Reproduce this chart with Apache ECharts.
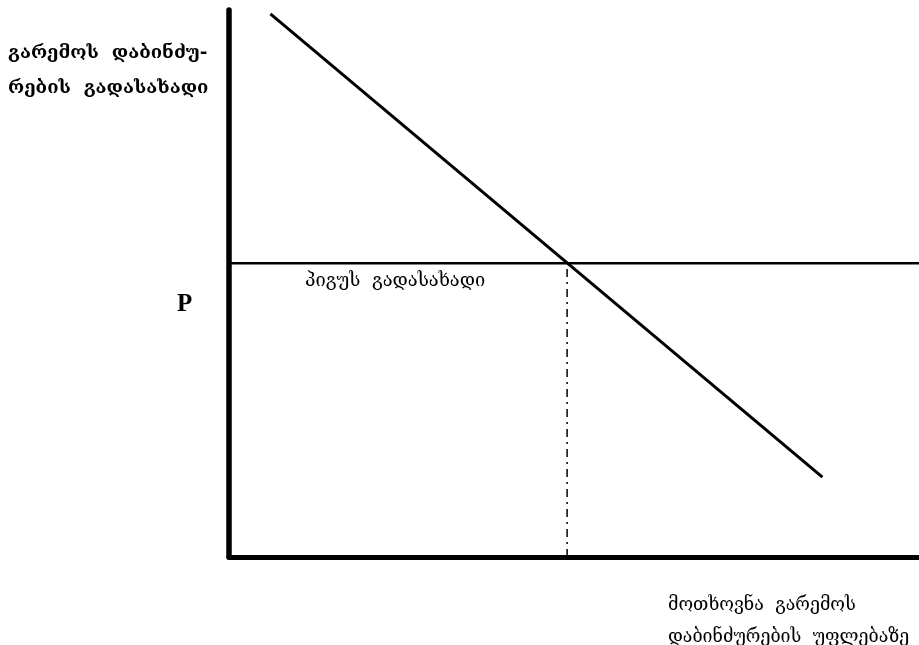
<!DOCTYPE html>
<html>
<head>
<meta charset="utf-8">
<script src="https://cdn.jsdelivr.net/npm/echarts@6/dist/echarts.min.js"></script>
<style>
  html, body { margin: 0; padding: 0; background: #fff; }
  #chart { width: 919px; height: 645px; }
</style>
</head>
<body>
<div id="chart"></div>
<script>
// demand curve for pollution rights and the Pigou tax level
const demandX = [6, 86];
const demandY = [99.3, 14.6];
const pigouX = [0, 100];
const pigouY = [53.7, 53.7];
const equilibriumX = [49, 49];
const equilibriumY = [0, 53.7];

const yTitle = ['გარემოს  დაბინძუ-', 'რების  გადასახადი'];
const xTitle = ['მოთხოვნა  გარემოს', 'დაბინძურების  უფლებაზე'];
const pigouLabel = 'პიგუს  გადასახადი';
const priceLabel = 'P';

const geoFont = '"DejaVu Serif", "DejaVu Sans", serif';

const chart = echarts.init(document.getElementById('chart'));

function pairs(xs, ys) {
    return xs.map((x, i) => [x, ys[i]]);
}

chart.setOption({
    animation: false,
    grid: { left: 229, right: 0, top: 10, bottom: 88 },
    xAxis: {
        type: 'value',
        min: 0,
        max: 100,
        axisLine: { show: true, lineStyle: { color: '#000', width: 5 } },
        axisTick: { show: false },
        axisLabel: { show: false },
        splitLine: { show: false }
    },
    yAxis: {
        type: 'value',
        min: 0,
        max: 100,
        axisLine: { show: true, lineStyle: { color: '#000', width: 5.5 } },
        axisTick: { show: false },
        axisLabel: { show: false },
        splitLine: { show: false }
    },
    series: [
        {
            type: 'line',
            data: pairs(demandX, demandY),
            showSymbol: false,
            lineStyle: { color: '#000', width: 3 }
        },
        {
            type: 'line',
            data: pairs(pigouX, pigouY),
            showSymbol: false,
            lineStyle: { color: '#000', width: 2.5 }
        },
        {
            type: 'line',
            data: pairs(equilibriumX, equilibriumY),
            showSymbol: false,
            lineStyle: { color: '#000', width: 1.5, type: [8, 5, 2, 5] }
        }
    ],
    graphic: [
        {
            type: 'text',
            left: 8,
            top: 36,
            style: {
                text: yTitle.join('\n'),
                font: 'bold 18.5px ' + geoFont,
                lineHeight: 35,
                fill: '#000'
            }
        },
        {
            type: 'text',
            left: 177,
            top: 292,
            style: {
                text: priceLabel,
                font: 'bold 25px "Liberation Serif", serif',
                fill: '#000'
            }
        },
        {
            type: 'text',
            left: 305,
            top: 272,
            style: {
                text: pigouLabel,
                font: '18.3px ' + geoFont,
                fill: '#000'
            }
        },
        {
            type: 'text',
            left: 668,
            top: 589,
            style: {
                text: xTitle.join('\n'),
                font: '17.8px ' + geoFont,
                lineHeight: 32,
                fill: '#000'
            }
        }
    ]
});
</script>
</body>
</html>
